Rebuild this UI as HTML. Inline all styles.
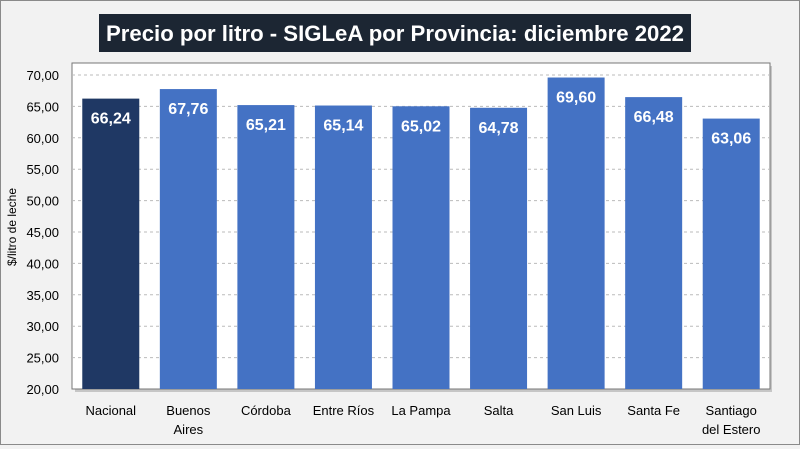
<!DOCTYPE html>
<html><head><meta charset="utf-8"><style>
body{margin:0;background:#f2f2f2;}
#wrap{position:relative;width:798px;height:443px;border:1px solid #8a8a8a;background:#f2f2f2;font-family:"Liberation Sans",sans-serif;}
</style></head><body>
<div id="wrap">
<svg id="chart" width="798" height="443">
<rect x="98" y="13" width="592" height="38" fill="#1c2633"/>
<text x="394" y="40" text-anchor="middle" fill="#fff" font-size="22" font-weight="bold" textLength="578" lengthAdjust="spacingAndGlyphs">Precio por litro - SIGLeA por Provincia: diciembre 2022</text>
<rect x="74" y="65" width="697" height="326" fill="#999" opacity="0.5"/>
<rect x="71" y="62" width="698" height="326" fill="#fff" stroke="#777"/>
<text transform="translate(15,226) rotate(-90)" text-anchor="middle" font-size="12" fill="#000">$/litro de leche</text>
<g id="g"></g>
</svg>
</div>
<script>
const categories=[["Nacional"],["Buenos","Aires"],["Córdoba"],["Entre Ríos"],["La Pampa"],["Salta"],["San Luis"],["Santa Fe"],["Santiago","del Estero"]];
const values=[66.24,67.76,65.21,65.14,65.02,64.78,69.60,66.48,63.06];
const labels=["66,24","67,76","65,21","65,14","65,02","64,78","69,60","66,48","63,06"];
const yTicks=[20,25,30,35,40,45,50,55,60,65,70];
const X0=71,X1=769,Y0=388,YT=74,VMIN=20,VMAX=70;
function y(v){return Y0-(v-VMIN)/(VMAX-VMIN)*(Y0-YT);}
const step=(X1-X0)/categories.length;
function xc(i){return X0+step*(i+0.5);}
const g=document.getElementById('g');const NS='http://www.w3.org/2000/svg';
function el(t,a,txt){const e=document.createElementNS(NS,t);for(const k in a)e.setAttribute(k,a[k]);if(txt!=null)e.textContent=txt;g.appendChild(e);return e;}
yTicks.forEach(t=>{
 if(t>VMIN){const l=el('line',{x1:X0,x2:X1,y1:y(t),y2:y(t),stroke:'#bbb','stroke-dasharray':'3,3'});
 
 }
 const tx=el('text',{x:58,y:y(t)+5,'text-anchor':'end','font-size':'13',fill:'#000'},t.toFixed(2).replace('.',','));
 
 
});
values.forEach((v,i)=>{
 const bw=57;
 const r=el('rect',{x:xc(i)-bw/2,y:y(v),width:bw,height:Y0-y(v),fill:i==0?'#1f3864':'#4472c4'});
 
 
 const t=el('text',{x:xc(i),y:y(v)+25,'text-anchor':'middle','font-size':'16','font-weight':'bold',fill:'#fff'},labels[i]);
 
 
 categories[i].forEach((s,j)=>{
  const c=el('text',{x:xc(i),y:414+j*19,'text-anchor':'middle','font-size':'13',fill:'#000'},s);
  
  
 });
});
</script>
</body></html>
